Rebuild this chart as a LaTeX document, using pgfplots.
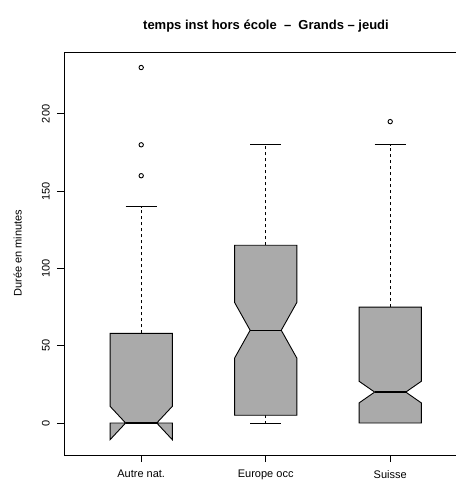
\documentclass[border=0pt]{standalone}
\usepackage{fontspec}
\setmainfont{Liberation Sans}
\usepackage{pgfplots}
\pgfplotsset{compat=1.18}
\definecolor{boxgray}{RGB}{170,170,170}
\begin{document}
\begin{tikzpicture}
\clip (0,0) rectangle (456bp,480bp);
\begin{axis}[
  at={(64bp,25bp)}, anchor=south west,
  scale only axis, width=403.4bp, height=402.3bp,
  xmin=0.38, xmax=3.62, ymin=-20.7, ymax=239.6,
  axis line style={line width=0.9bp},
  tick style={black, line width=0.9bp},
  tick align=outside, major tick length=7bp,
  xtick={1,2,3}, xticklabels={Autre nat., Europe occ, Suisse},
  ytick={0,50,100,150,200},
  xtick pos=left, ytick pos=left,
  /pgf/number format/assume math mode=true,
  tick label style={font=\fontsize{11bp}{13bp}\selectfont},
  yticklabel style={rotate=90, anchor=south, inner sep=0pt},
  xticklabel style={anchor=north, inner sep=0pt},
  xticklabel shift=8bp, yticklabel shift=7bp,
  title={temps inst hors école \ –\ \ Grands – jeudi},
  title style={at={(axis description cs:0.5007,1.059)}, anchor=base, yshift=-7bp, font=\bfseries\fontsize{13bp}{15bp}\selectfont},
  ylabel={Durée en minutes},
  ylabel style={at={(axis description cs:-0.1148,0.502)}, anchor=center, font=\fontsize{11bp}{13bp}\selectfont},
  clip=false,
]
% whiskers (dashed)
\addplot[black, line width=0.9bp, dash pattern=on 3bp off 3bp] coordinates {(1,58) (1,140)};
\addplot[black, line width=0.9bp, dash pattern=on 3bp off 3bp] coordinates {(2,115) (2,180)};
\addplot[black, line width=0.9bp, dash pattern=on 3bp off 3bp] coordinates {(2,5) (2,0)};
\addplot[black, line width=0.9bp, dash pattern=on 3bp off 3bp] coordinates {(3,75) (3,180)};
% staples
\addplot[black, line width=0.9bp] coordinates {(0.875,140) (1.125,140)};
\addplot[black, line width=0.9bp] coordinates {(1.875,180) (2.125,180)};
\addplot[black, line width=0.9bp] coordinates {(1.875,0) (2.125,0)};
\addplot[black, line width=0.9bp] coordinates {(2.875,180) (3.125,180)};
% notched boxes
\addplot[draw=black, fill=boxgray, line width=0.9bp] coordinates {
(0.75,0) (0.75,-10.8) (0.875,0) (0.75,10.8) (0.75,58) (1.25,58) (1.25,10.8) (1.125,0) (1.25,-10.8) (1.25,0)} -- cycle;
\addplot[draw=black, fill=boxgray, line width=0.9bp] coordinates {
(1.75,5) (1.75,42) (1.875,60) (1.75,78) (1.75,115) (2.25,115) (2.25,78) (2.125,60) (2.25,42) (2.25,5)} -- cycle;
\addplot[draw=black, fill=boxgray, line width=0.9bp] coordinates {
(2.75,0) (2.75,13) (2.875,20) (2.75,27) (2.75,75) (3.25,75) (3.25,27) (3.125,20) (3.25,13) (3.25,0)} -- cycle;
% medians
\addplot[black, line width=1.2bp] coordinates {(0.875,0) (1.125,0)};
\addplot[black, line width=1.2bp] coordinates {(1.875,60) (2.125,60)};
\addplot[black, line width=1.2bp] coordinates {(2.875,20) (3.125,20)};
% outliers
\addplot[only marks, mark=o, mark size=2.2bp, black, mark options={line width=0.9bp}] coordinates {(1,160) (1,180) (1,230) (3,195)};
\end{axis}
\end{tikzpicture}
\end{document}
